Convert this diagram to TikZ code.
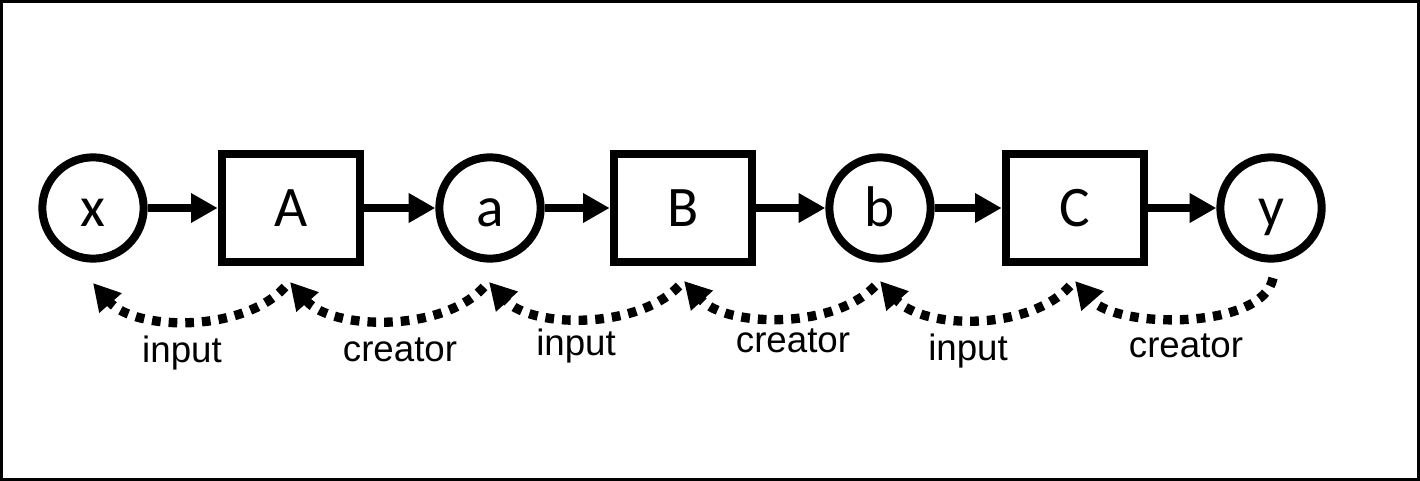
\documentclass[tikz,border=0pt]{standalone}
\usepackage{fontspec}
\setmainfont{Liberation Sans}
\newfontfamily\nodefont{Carlito}
\usetikzlibrary{arrows.meta}
\begin{document}
\begin{tikzpicture}[x=0.75pt,y=-0.75pt,
  var/.style={circle,draw,line width=6pt,minimum size=76pt,inner sep=0pt,text height=28pt,text depth=0pt,font=\nodefont\fontsize{43}{43}\selectfont},
  fn/.style={rectangle,draw,line width=6pt,minimum width=104pt,minimum height=81pt,inner sep=0pt,text height=28pt,text depth=0pt,font=\nodefont\fontsize{43}{43}\selectfont},
  flow/.style={line width=6pt,-{Triangle[length=20pt,width=21pt]}},
  back/.style={line width=7pt,dash pattern=on 6.5pt off 6pt,-{Triangle[length=20pt,width=21pt]}},
  lbl/.style={anchor=base,inner sep=0pt,font=\fontsize{27.5}{27.5}\selectfont}]
\useasboundingbox (0,0) rectangle (1420,481);
\draw[line width=2.25pt] (1.5,1.5) rectangle (1418.5,479.5);

\node[var] (x) at (93,208) {x};
\node[fn]  (A) at (291,208) {A};
\node[var] (a) at (490,208) {a};
\node[fn]  (B) at (683,208) {B};
\node[var] (b) at (880,208) {b};
\node[fn]  (C) at (1075,208) {C};
\node[var] (y) at (1271,208) {y};

\draw[flow] (x) -- (A);
\draw[flow] (A) -- (a);
\draw[flow] (a) -- (B);
\draw[flow] (B) -- (b);
\draw[flow] (b) -- (C);
\draw[flow] (C) -- (y);

% arrow tips (t) and start points (s) below the nodes
\coordinate (xt) at (93,283);
\coordinate (At) at (290,282);
\coordinate (As) at (285,287);
\coordinate (at) at (489,282);
\coordinate (as) at (484,287);
\coordinate (Bt) at (684,281);
\coordinate (Bs) at (679,286);
\coordinate (bt) at (880,281);
\coordinate (bs) at (875,286);
\coordinate (Ct) at (1075,281);
\coordinate (Cs) at (1070,286);
\coordinate (ys) at (1273,278);

\draw[back] (As) .. controls +(-42,46) and +(42,48) .. (xt);
\draw[back] (as) .. controls +(-42,46) and +(42,48) .. (At);
\draw[back] (Bs) .. controls +(-42,44) and +(42,46) .. (at);
\draw[back] (bs) .. controls +(-42,44) and +(42,46) .. (Bt);
\draw[back] (Cs) .. controls +(-42,46) and +(42,48) .. (bt);
\draw[back] (ys) .. controls +(-10,52) and +(42,48) .. (Ct);

\node[lbl] (l1) at (182,362) {input};
\node[lbl] (l2) at (400,361) {creator};
\node[lbl] (l3) at (576,355) {input};
\node[lbl] (l4) at (793,352) {creator};
\node[lbl] (l5) at (968,360) {input};
\node[lbl] (l6) at (1186,357) {creator};
\end{tikzpicture}
\end{document}
